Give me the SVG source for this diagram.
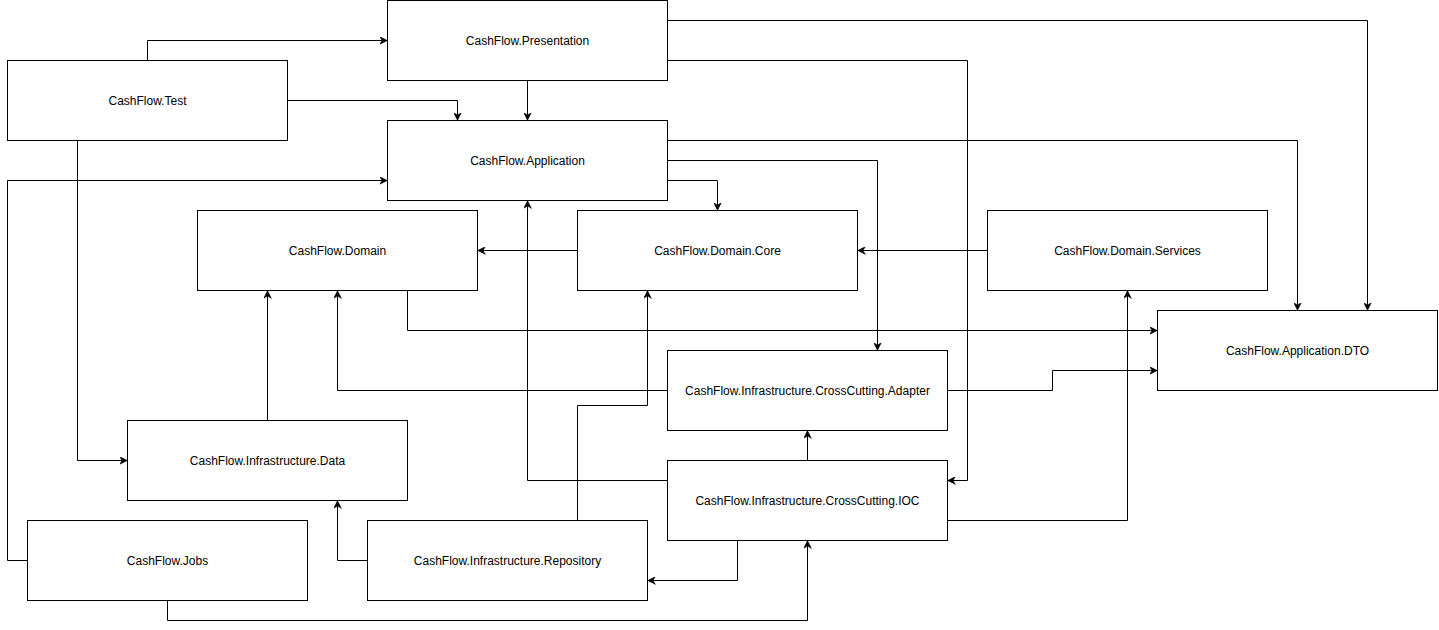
<svg xmlns="http://www.w3.org/2000/svg" width="1439" height="630" viewBox="0 0 1439 630">
<style>
.box{fill:#fff;stroke:#000;stroke-width:1}
.lbl{font-family:"Liberation Sans",Arial,sans-serif;font-size:12px;fill:#000;text-anchor:middle;dominant-baseline:central}
.edge{fill:none;stroke:#000;stroke-width:1;marker-end:url(#arr)}
</style>
<defs>
<marker id="arr" viewBox="0 0 10 10" markerWidth="8" markerHeight="8" refX="10" refY="5" orient="auto" markerUnits="userSpaceOnUse">
<path d="M0,0 L10,5 L0,10 L3,5 z" fill="#000" stroke="#000" stroke-width="0.5"/>
</marker>
</defs>
<rect width="1439" height="630" fill="#fff"/>
<g id="nodes">
<g id="presentation"><rect class="box" x="387.5" y="0.5" width="280" height="80"/><text class="lbl" x="527.5" y="40.5">CashFlow.Presentation</text></g>
<g id="test"><rect class="box" x="7.5" y="60.5" width="280" height="80"/><text class="lbl" x="147.5" y="100.5">CashFlow.Test</text></g>
<g id="application"><rect class="box" x="387.5" y="120.5" width="280" height="80"/><text class="lbl" x="527.5" y="160.5">CashFlow.Application</text></g>
<g id="domain"><rect class="box" x="197.5" y="210.5" width="280" height="80"/><text class="lbl" x="337.5" y="250.5">CashFlow.Domain</text></g>
<g id="domaincore"><rect class="box" x="577.5" y="210.5" width="280" height="80"/><text class="lbl" x="717.5" y="250.5">CashFlow.Domain.Core</text></g>
<g id="domainservices"><rect class="box" x="987.5" y="210.5" width="280" height="80"/><text class="lbl" x="1127.5" y="250.5">CashFlow.Domain.Services</text></g>
<g id="dto"><rect class="box" x="1157.5" y="310.5" width="280" height="80"/><text class="lbl" x="1297.5" y="350.5">CashFlow.Application.DTO</text></g>
<g id="adapter"><rect class="box" x="667.5" y="350.5" width="280" height="80"/><text class="lbl" x="807.5" y="390.5">CashFlow.Infrastructure.CrossCutting.Adapter</text></g>
<g id="data"><rect class="box" x="127.5" y="420.5" width="280" height="80"/><text class="lbl" x="267.5" y="460.5">CashFlow.Infrastructure.Data</text></g>
<g id="ioc"><rect class="box" x="667.5" y="460.5" width="280" height="80"/><text class="lbl" x="807.5" y="500.5">CashFlow.Infrastructure.CrossCutting.IOC</text></g>
<g id="jobs"><rect class="box" x="27.5" y="520.5" width="280" height="80"/><text class="lbl" x="167.5" y="560.5">CashFlow.Jobs</text></g>
<g id="repository"><rect class="box" x="367.5" y="520.5" width="280" height="80"/><text class="lbl" x="507.5" y="560.5">CashFlow.Infrastructure.Repository</text></g>
</g>
<g id="connectors">
<path class="edge" d="M147.5,60.5 V40.5 H387.5"/>
<path class="edge" d="M287.5,100.5 H457.5 V120.5"/>
<path class="edge" d="M527.5,80.5 V120.5"/>
<path class="edge" d="M667.5,20.5 H1367.5 V310.5"/>
<path class="edge" d="M667.5,60.5 H967.5 V480.5 H947.5"/>
<path class="edge" d="M667.5,140.5 H1297.5 V310.5"/>
<path class="edge" d="M667.5,160.5 H877.5 V350.5"/>
<path class="edge" d="M667.5,180.5 H717.5 V210.5"/>
<path class="edge" d="M77.5,140.5 V460.5 H127.5"/>
<path class="edge" d="M27.5,560.5 H7.5 V180.5 H387.5"/>
<path class="edge" d="M577.5,250.5 H477.5"/>
<path class="edge" d="M987.5,250.5 H857.5"/>
<path class="edge" d="M407.5,290.5 V330.5 H1157.5"/>
<path class="edge" d="M267.5,420.5 V290.5"/>
<path class="edge" d="M667.5,390.5 H337.5 V290.5"/>
<path class="edge" d="M667.5,480.5 H527.5 V200.5"/>
<path class="edge" d="M577.5,520.5 V405.5 H647.5 V290.5"/>
<path class="edge" d="M947.5,390.5 H1052.5 V370.5 H1157.5"/>
<path class="edge" d="M807.5,460.5 V430.5"/>
<path class="edge" d="M947.5,520.5 H1127.5 V290.5"/>
<path class="edge" d="M737.5,540.5 V580.5 H647.5"/>
<path class="edge" d="M167.5,600.5 V620.5 H807.5 V540.5"/>
<path class="edge" d="M367.5,560.5 H337.5 V500.5"/>
</g>
</svg>
